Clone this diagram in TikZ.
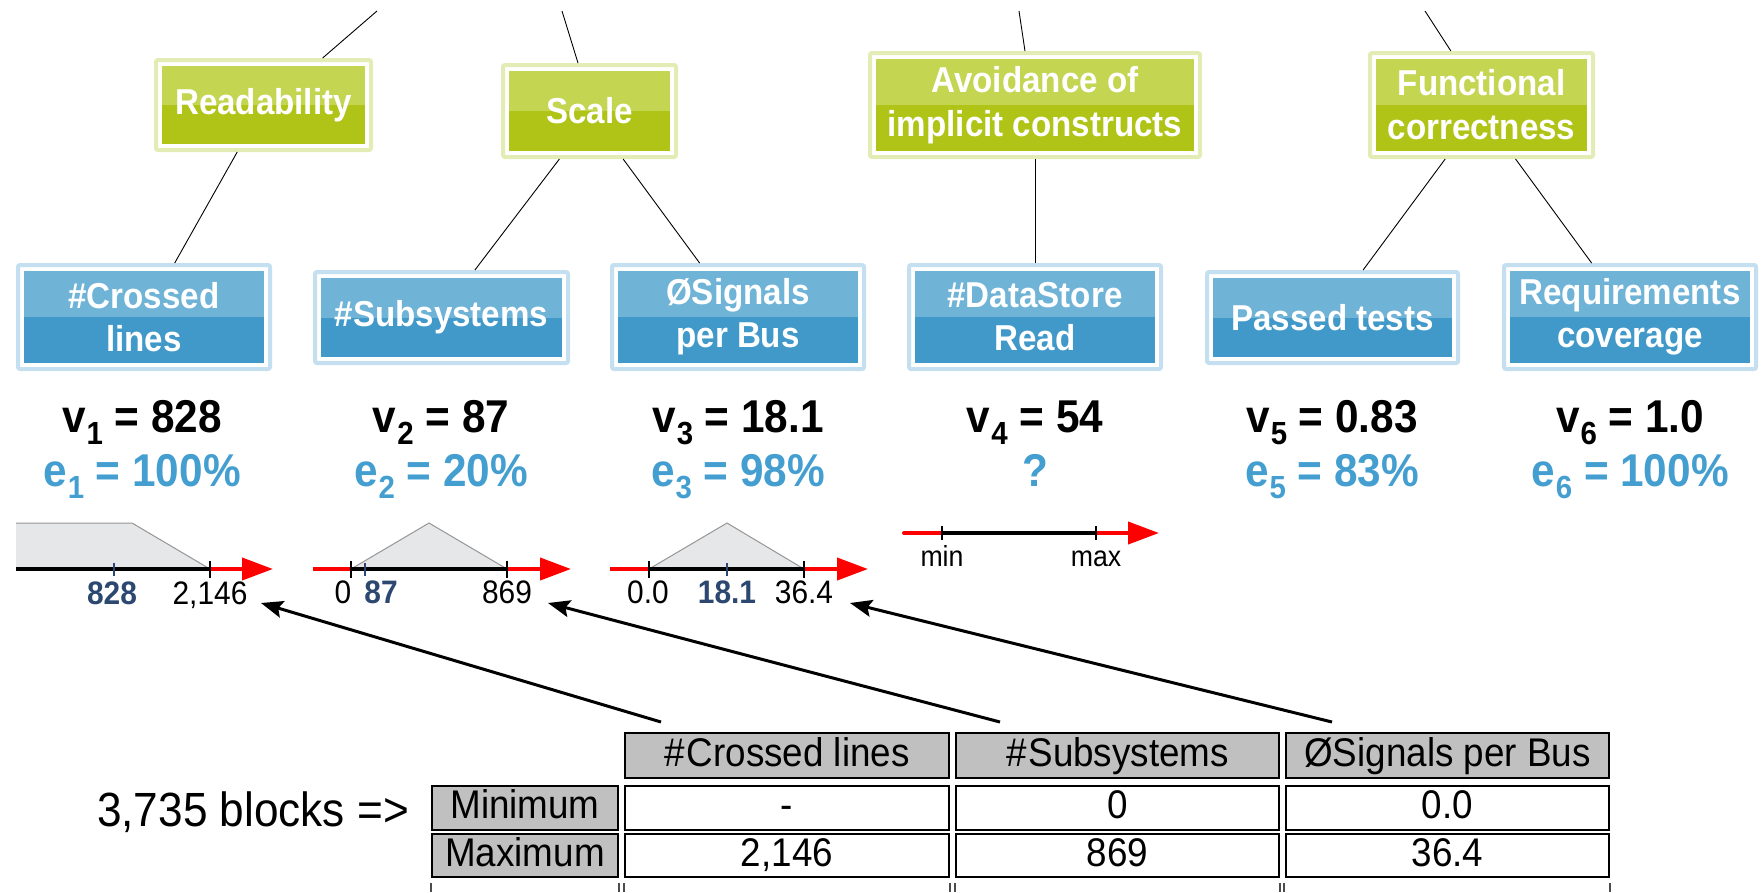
\documentclass[tikz,border=0pt]{standalone}
\usepackage{fontspec}
\setmainfont{Liberation Sans}[FakeStretch=0.92]
\usetikzlibrary{arrows.meta,calc}

\definecolor{gpale}{RGB}{226,236,180}
\definecolor{gtop}{RGB}{196,213,82}
\definecolor{gbot}{RGB}{176,196,24}
\definecolor{bpale}{RGB}{196,223,240}
\definecolor{btop}{RGB}{111,179,215}
\definecolor{bbot}{RGB}{64,153,201}
\definecolor{eblue}{RGB}{68,159,208}
\definecolor{tickblue}{RGB}{44,72,112}
\definecolor{areafill}{RGB}{230,231,232}
\definecolor{arealine}{RGB}{150,150,150}
\definecolor{cellgray}{RGB}{192,192,192}

\newcommand\fs[1]{\fontsize{#1}{#1}\selectfont}
\newcommand\vsub[2]{#1\kern1pt\raisebox{-12pt}{\fs{32}#2}}

\begin{document}
\begin{tikzpicture}[x=1pt,y=-1pt,
  box/.style={draw=#1pale, line width=4pt, fill=white, rounded corners=2pt,
    text=white, font=\fs{36}\bfseries, align=center, inner sep=0pt,
    path picture={
      \fill[#1top, sharp corners] ([shift={(6pt,-6pt)}]path picture bounding box.north west)
        rectangle ([shift={(-6pt,0pt)}]path picture bounding box.east);
      \fill[#1bot, sharp corners] ([shift={(6pt,0pt)}]path picture bounding box.west)
        rectangle ([shift={(-6pt,6pt)}]path picture bounding box.south east);
    }},
  link/.style={draw=black, line width=0.9pt},
  vlab/.style={anchor=base, font=\fs{46}\bfseries, inner sep=0pt},
  elab/.style={vlab, text=eblue},
  num/.style={anchor=base, font=\fs{32.5}, inner sep=0pt},
  numb/.style={num, font=\fs{32.5}\bfseries, text=tickblue},
  axis/.style={line width=4pt, black},
  axisred/.style={line width=4pt, red},
  axisarrow/.style={line width=4pt, red, -{Triangle[length=31pt,width=22pt]}},
  tickk/.style={line width=1.6pt, black},
  tickb/.style={line width=1.6pt, tickblue},
  area/.style={fill=areafill},
  areaedge/.style={draw=arealine, line width=1pt},
  ptr/.style={line width=3pt, -{Stealth[length=22pt,width=17pt,inset=4pt]}},
  cell/.style={draw=black, line width=2pt, font=\fs{40}, inner sep=0pt,
    text height=29pt, text depth=8pt},
  graycell/.style={cell, fill=cellgray},
  whitecell/.style={cell, fill=white},
]
\useasboundingbox (0,0) rectangle (1763,892);

% ---- quality attributes ----
\node[box=g, minimum width=215pt, minimum height=90pt] (R) at (263.5,105) {Readability};
\node[box=g, minimum width=173pt, minimum height=92pt] (S) at (589.5,111) {Scale};
\node[box=g, minimum width=330pt, minimum height=104pt] (A) at (1035,105) {Avoidance of\\[8pt]implicit constructs};
\node[box=g, minimum width=223pt, minimum height=104pt] (F) at (1481.5,105) {Functional\\[8pt]correctness};

% ---- metrics ----
\node[box=b, minimum width=252pt, minimum height=104pt] (C)   at (144,317)    {\#Crossed\\[7pt]lines};
\node[box=b, minimum width=253pt, minimum height=91pt]  (Sub) at (441.5,317.5) {\#Subsystems};
\node[box=b, minimum width=252pt, minimum height=104pt] (Sig) at (738,317)    {ØSignals\\[7pt]per Bus};
\node[box=b, minimum width=252pt, minimum height=104pt] (DS)  at (1035,317)   {\#DataStore\\[7pt]Read};
\node[box=b, minimum width=251pt, minimum height=91pt]  (P)   at (1332.5,317.5) {Passed tests};
\node[box=b, minimum width=252pt, minimum height=104pt] (Req) at (1630,317)   {Requirements\\[7pt]coverage};

% ---- links to the parent level ----
\coordinate (tR) at (377,11);
\coordinate (tS) at (562,11);
\coordinate (tA) at (1019,11);
\coordinate (tF) at (1425,11);
\draw[link] (tR) -- ($(R.north west)!0.77!(R.north east)$);
\draw[link] (tS) -- ($(S.north west)!0.435!(S.north east)$);
\draw[link] (tA) -- ($(A.north west)!0.47!(A.north east)$);
\draw[link] (tF) -- ($(F.north west)!0.365!(F.north east)$);

% ---- attribute to metric links ----
\draw[link] ($(R.south west)!0.38!(R.south east)$) -- ($(C.north west)!0.62!(C.north east)$);
\draw[link] ($(S.south west)!0.33!(S.south east)$) -- ($(Sub.north west)!0.63!(Sub.north east)$);
\draw[link] ($(S.south west)!0.69!(S.south east)$) -- ($(Sig.north west)!0.35!(Sig.north east)$);
\draw[link] (A.south) -- (DS.north);
\draw[link] ($(F.south west)!0.34!(F.south east)$) -- ($(P.north west)!0.62!(P.north east)$);
\draw[link] ($(F.south west)!0.65!(F.south east)$) -- ($(Req.north west)!0.35!(Req.north east)$);

% ---- values and evaluations ----
\node[vlab] (v1) at (142,432)  {\vsub{v}{1} = 828};
\node[vlab] (v2) at (441,432)  {\vsub{v}{2} = 87};
\node[vlab] (v3) at (738,432)  {\vsub{v}{3} = 18.1};
\node[vlab] (v4) at (1035,432) {\vsub{v}{4} = 54};
\node[vlab] (v5) at (1332,432) {\vsub{v}{5} = 0.83};
\node[vlab] (v6) at (1630,432) {\vsub{v}{6} = 1.0};
\node[elab] (e1) at (142,486)  {\vsub{e}{1} = 100\%};
\node[elab] (e2) at (441,486)  {\vsub{e}{2} = 20\%};
\node[elab] (e3) at (738,486)  {\vsub{e}{3} = 98\%};
\node[elab] (e4) at (1035,486) {?};
\node[elab] (e5) at (1332,486) {\vsub{e}{5} = 83\%};
\node[elab] (e6) at (1630,486) {\vsub{e}{6} = 100\%};

% ---- evaluation function 1 ----
\fill[area] (16,523) -- (132,523) -- (210,569) -- (16,569) -- cycle;
\draw[areaedge] (16,523) -- (132,523) -- (210,569);
\draw[axis] (16,569) -- (210,569);
\draw[axisarrow] (210,569) -- (273,569);
\draw[tickb] (114,563) -- (114,576);
\draw[tickk] (210,561) -- (210,578);
\node[numb] (l828) at (112,604) {828};
\node[num] (l2146) at (210,604) {2,146};

% ---- evaluation function 2 ----
\fill[area] (351,569) -- (429,523) -- (507,569) -- cycle;
\draw[areaedge] (351,569) -- (429,523) -- (507,569);
\draw[axisred] (313,569) -- (351,569);
\draw[axis] (351,569) -- (507,569);
\draw[axisarrow] (507,569) -- (571,569);
\draw[tickk] (351,561) -- (351,578);
\draw[tickb] (365,563) -- (365,576);
\draw[tickk] (507,561) -- (507,578);
\node[num] (l0) at (343,603) {0};
\node[numb] (l87) at (381,603) {87};
\node[num] (l869) at (507,603) {869};

% ---- evaluation function 3 ----
\fill[area] (649,569) -- (727,523) -- (804,569) -- cycle;
\draw[areaedge] (649,569) -- (727,523) -- (804,569);
\draw[axisred] (610,569) -- (649,569);
\draw[axis] (649,569) -- (804,569);
\draw[axisarrow] (804,569) -- (868,569);
\draw[tickk] (649,561) -- (649,578);
\draw[tickb] (727,563) -- (727,576);
\draw[tickk] (804,561) -- (804,578);
\node[num] (l00) at (648,603) {0.0};
\node[numb] (l181) at (727,603) {18.1};
\node[num] (l364) at (804,603) {36.4};

% ---- generic scale ----
\draw[axisred, line cap=round] (904,533) -- (942,533);
\draw[axis] (942,533) -- (1096,533);
\draw[axisarrow] (1096,533) -- (1159,533);
\draw[tickk] (942,526) -- (942,540);
\draw[tickk] (1096,526) -- (1096,540);
\node[num, font=\fs{29}] (lmin) at (942,566) {min};
\node[num, font=\fs{29}] (lmax) at (1096,566) {max};

% ---- statistics table ----
\node[anchor=base, font=\fs{48}, inner sep=0pt] (blocks) at (253,826) {3,735 blocks =>};

\node[graycell, minimum width=324pt, minimum height=45pt] (h1) at (787,755.5)    {\#\kern2pt Crossed lines};
\node[graycell, minimum width=323pt, minimum height=45pt] (h2) at (1117.5,755.5) {\#\kern2pt Subsystems};
\node[graycell, minimum width=323pt, minimum height=45pt] (h3) at (1447.5,755.5) {ØSignals per Bus};

\node[graycell,  minimum width=186pt, minimum height=44pt] (rmin) at (525,808)    {Minimum};
\node[whitecell, minimum width=324pt, minimum height=44pt] (m1)   at (787,808)    {-};
\node[whitecell, minimum width=323pt, minimum height=44pt] (m2)   at (1117.5,808) {0};
\node[whitecell, minimum width=323pt, minimum height=44pt] (m3)   at (1447.5,808) {0.0};

\node[graycell,  minimum width=186pt, minimum height=43pt] (rmax) at (525,855.5)    {Maximum};
\node[whitecell, minimum width=324pt, minimum height=43pt] (x1)   at (787,855.5)    {2,146};
\node[whitecell, minimum width=323pt, minimum height=43pt] (x2)   at (1117.5,855.5) {869};
\node[whitecell, minimum width=323pt, minimum height=43pt] (x3)   at (1447.5,855.5) {36.4};

% next table row, cut off at the lower edge
\foreach \cx in {431,619,624,950,955,1280,1284,1610}
  \draw[line width=2pt, black!70] (\cx,883) -- (\cx,892);

% ---- pointers from the table to the scales ----
\coordinate (p1) at (661,722);
\coordinate (p2) at (1000,722);
\coordinate (p3) at (1332,722);
\coordinate (q1) at (261,603);
\coordinate (q2) at (548,603);
\coordinate (q3) at (850,603);
\draw[ptr] (p1) -- (q1);
\draw[ptr] (p2) -- (q2);
\draw[ptr] (p3) -- (q3);
\end{tikzpicture}
\end{document}
